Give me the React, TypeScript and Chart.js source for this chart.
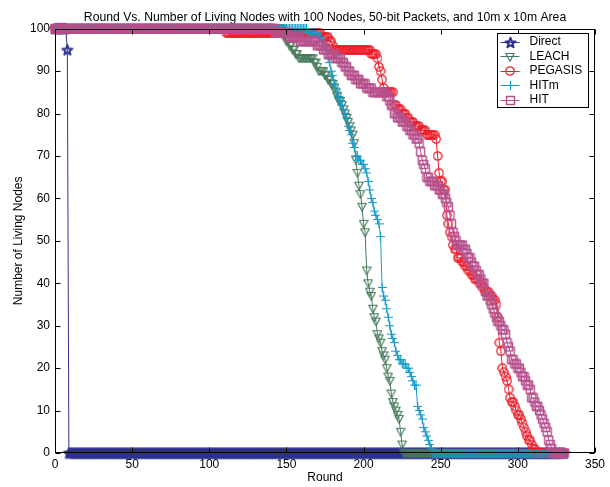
import React, { useEffect, useRef } from 'react';
import { Chart, registerables } from 'chart.js';

Chart.register(...registerables);

const chartTitle = 'Round Vs. Number of Living Nodes with 100 Nodes, 50-bit Packets, and 10m x 10m Area';
const xLabel = 'Round';
const yLabel = 'Number of Living Nodes';
const seriesNames = ['Direct', 'LEACH', 'PEGASIS', 'HITm', 'HIT'];
const xTicks = [0, 50, 100, 150, 200, 250, 300, 350];
const yTicks = [0, 10, 20, 30, 40, 50, 60, 70, 80, 90, 100];
const lastRound = 330;

// [round at which the living-node count changes, living nodes from that round on]
const directSteps = [[0, 100], [8, 95], [9, 0]];
const leachSteps = [[0, 100], [148, 99], [149, 98], [150, 97], [152, 96], [154, 95], [156, 94], [158, 93], [168, 92], [170, 91], [171, 90], [175, 89], [177, 88], [179, 87], [181, 86], [182, 85], [183, 84], [184, 83], [186, 82], [187, 81], [188, 80], [189, 79], [190, 78], [191, 77], [192, 76], [193, 75], [194, 73], [195, 69], [196, 66], [197, 63], [198, 61], [199, 58], [200, 54], [201, 52], [202, 43], [203, 40], [204, 38], [205, 37], [206, 34], [207, 32], [208, 31], [209, 28], [210, 27], [211, 26], [212, 24], [213, 23], [214, 22], [215, 20], [216, 18], [217, 17], [218, 14], [219, 12], [220, 11], [221, 10], [222, 9], [223, 8], [224, 5], [225, 2], [226, 0]];
const pegasisSteps = [[0, 100], [111, 99], [173, 98], [178, 97], [180, 96], [181, 95], [205, 94], [209, 93], [210, 91], [211, 90], [212, 88], [213, 86], [214, 85], [220, 82], [222, 81], [225, 80], [228, 79], [230, 78], [233, 77], [237, 76], [241, 75], [247, 74], [248, 70], [249, 66], [250, 64], [252, 62], [254, 56], [255, 54], [256, 52], [257, 51], [258, 49], [259, 48], [261, 46], [264, 45], [266, 44], [268, 43], [270, 42], [272, 41], [275, 40], [277, 39], [279, 38], [282, 37], [284, 36], [286, 35], [287, 32], [288, 26], [289, 24], [290, 20], [291, 19], [292, 18], [293, 17], [294, 15], [295, 13], [296, 12], [298, 11], [299, 10], [300, 9], [302, 8], [303, 7], [304, 6], [305, 5], [306, 4], [307, 3], [309, 2], [310, 1], [312, 0]];
const hitmSteps = [[0, 100], [164, 99], [171, 98], [173, 97], [175, 96], [176, 95], [177, 93], [178, 92], [179, 90], [180, 89], [181, 87], [182, 86], [183, 85], [184, 84], [185, 83], [186, 82], [187, 81], [188, 80], [189, 79], [190, 77], [191, 76], [192, 75], [193, 73], [194, 72], [195, 70], [197, 69], [199, 68], [201, 67], [202, 66], [203, 64], [204, 62], [205, 60], [206, 59], [207, 57], [208, 56], [209, 55], [210, 54], [211, 51], [212, 39], [213, 37], [214, 36], [215, 34], [216, 32], [217, 30], [218, 28], [219, 27], [220, 26], [221, 24], [222, 23], [223, 22], [225, 21], [228, 20], [230, 19], [231, 18], [232, 17], [233, 16], [235, 11], [236, 10], [237, 9], [238, 8], [239, 6], [240, 5], [241, 4], [242, 3], [243, 2], [244, 1], [245, 0]];
const hitSteps = [[0, 100], [143, 99], [152, 98], [159, 97], [170, 96], [174, 95], [177, 94], [182, 93], [186, 92], [188, 91], [190, 90], [192, 89], [195, 88], [198, 87], [202, 86], [206, 85], [215, 84], [217, 83], [218, 82], [220, 80], [222, 79], [225, 78], [228, 77], [230, 76], [232, 75], [234, 74], [236, 73], [237, 71], [238, 69], [239, 68], [240, 67], [241, 65], [243, 64], [246, 63], [249, 62], [251, 61], [253, 60], [254, 59], [255, 58], [256, 56], [257, 54], [258, 52], [259, 51], [260, 50], [261, 49], [265, 48], [267, 47], [268, 46], [270, 45], [271, 44], [273, 43], [274, 42], [276, 41], [277, 40], [279, 38], [280, 37], [282, 36], [283, 35], [284, 34], [285, 33], [286, 32], [287, 31], [289, 30], [290, 29], [292, 28], [293, 26], [294, 25], [295, 24], [296, 22], [298, 21], [300, 20], [302, 19], [303, 18], [305, 17], [306, 16], [308, 15], [309, 13], [311, 12], [312, 11], [314, 10], [315, 9], [316, 8], [317, 7], [318, 6], [319, 5], [320, 3], [321, 2], [322, 1], [323, 0]];

const seriesSteps = [directSteps, leachSteps, pegasisSteps, hitmSteps, hitSteps];
const seriesColors = ['#2E3192', '#467A5B', '#EE1D2A', '#169BC9', '#B5508C'];
const seriesMarkers = ['star', 'tri', 'circle', 'plus', 'rect'];
const markerStroke = [2, 1.2, 1.2, 1.2, 1.4];

const FONT = 'Liberation Sans, Arial, Helvetica, sans-serif';

// the count is held between recorded changes (one point per round)
function stepsToPoints(steps: number[][]) {
  const pts: { x: number; y: number }[] = [];
  let k = 0;
  for (let r = 0; r <= lastRound; r++) {
    while (k + 1 < steps.length && steps[k + 1][0] <= r) k++;
    pts.push({ x: r, y: steps[k][1] });
  }
  return pts;
}

function makeMarker(kind: string, color: string, lw: number) {
  const c = document.createElement('canvas');
  const s = kind === 'star' ? 13 : kind === 'plus' ? 9 : kind === 'rect' ? 11 : 10;
  c.width = s;
  c.height = s;
  const g = c.getContext('2d')!;
  g.strokeStyle = color;
  g.lineWidth = lw;
  g.lineJoin = 'round';
  const m = s / 2;
  g.beginPath();
  if (kind === 'star') {
    for (let i = 0; i < 10; i++) {
      const r = i % 2 === 0 ? 5.2 : 2.2;
      const a = -Math.PI / 2 + (i * Math.PI) / 5;
      const px = m + r * Math.cos(a);
      const py = m + 0.5 + r * Math.sin(a);
      if (i === 0) g.moveTo(px, py);
      else g.lineTo(px, py);
    }
    g.closePath();
  } else if (kind === 'tri') {
    g.moveTo(0.8, 1.5);
    g.lineTo(s - 0.8, 1.5);
    g.lineTo(m, s - 0.8);
    g.closePath();
  } else if (kind === 'circle') {
    g.arc(m, m, 4.2, 0, Math.PI * 2);
  } else if (kind === 'plus') {
    g.moveTo(m, 0);
    g.lineTo(m, s);
    g.moveTo(0, m);
    g.lineTo(s, m);
  } else {
    g.rect(1.5, 1.5, s - 3, s - 3);
  }
  g.stroke();
  return c;
}

const framePlugin = {
  id: 'matlabFrame',
  afterDatasetsDraw(chart: any) {
    const { ctx, chartArea: a, scales } = chart;
    const L = Math.round(a.left) + 0.5;
    const R = Math.round(a.right) - 0.5;
    const T = Math.round(a.top) + 0.5;
    const B = Math.round(a.bottom) - 0.5;
    ctx.save();
    ctx.strokeStyle = '#000';
    ctx.lineWidth = 1;
    ctx.strokeRect(L, T, R - L, B - T);
    ctx.beginPath();
    const tl = 5;
    xTicks.forEach((v) => {
      const px = Math.round(scales.x.getPixelForValue(v)) + 0.5;
      ctx.moveTo(px, B);
      ctx.lineTo(px, B - tl);
      ctx.moveTo(px, T);
      ctx.lineTo(px, T + tl);
    });
    yTicks.forEach((v) => {
      const py = Math.round(scales.y.getPixelForValue(v)) + 0.5;
      ctx.moveTo(L, py);
      ctx.lineTo(L + tl, py);
      ctx.moveTo(R, py);
      ctx.lineTo(R - tl, py);
    });
    ctx.stroke();
    ctx.restore();
  },
};

function makeLegendPlugin(markers: HTMLCanvasElement[]) {
  return {
    id: 'matlabLegend',
    afterDraw(chart: any) {
      const { ctx } = chart;
      const left = 497.5;
      const top = 33.5;
      const w = 91;
      const h = 74;
      ctx.save();
      ctx.fillStyle = '#fff';
      ctx.fillRect(left, top, w, h);
      ctx.strokeStyle = '#000';
      ctx.lineWidth = 1;
      ctx.strokeRect(left, top, w, h);
      ctx.font = `12px ${FONT}`;
      ctx.textBaseline = 'middle';
      ctx.textAlign = 'left';
      seriesNames.forEach((name, i) => {
        const y = top + 8 + i * 14.5;
        ctx.strokeStyle = seriesColors[i];
        ctx.beginPath();
        ctx.moveTo(left + 3, Math.round(y) + 0.5);
        ctx.lineTo(left + 22, Math.round(y) + 0.5);
        ctx.stroke();
        const mk = markers[i];
        if (mk) ctx.drawImage(mk, Math.round(left + 12.5 - mk.width / 2), Math.round(y + 0.5 - mk.height / 2));
        ctx.fillStyle = '#000';
        ctx.fillText(name, left + 32, y + 0.5);
      });
      ctx.restore();
    },
  };
}

export default function App() {
  const ref = useRef<HTMLCanvasElement | null>(null);
  useEffect(() => {
    if (!ref.current) return;
    const markers = seriesMarkers.map((k, i) => makeMarker(k, seriesColors[i], markerStroke[i]));
    const datasets = seriesNames.map((name, i) => ({
      label: name,
      data: stepsToPoints(seriesSteps[i]),
      borderColor: seriesColors[i],
      backgroundColor: 'transparent',
      borderWidth: 1,
      pointStyle: markers[i] as any,
      pointRadius: 4,
      tension: 0,
      clip: false as any,
      order: seriesNames.length - i,
    }));
    const chart: any = new Chart(ref.current, {
      type: 'line',
      data: { datasets },
      options: {
        responsive: false,
        animation: false,
        events: [],
        layout: { padding: { left: 0, right: 15, top: 0, bottom: 0 } },
        plugins: {
          legend: { display: false },
          tooltip: { enabled: false },
          title: {
            display: true,
            text: chartTitle,
            color: '#000',
            fullSize: false,
            font: { family: FONT, size: 12.2, weight: 'normal' },
            padding: { top: 10, bottom: 4 },
          },
        },
        scales: {
          x: {
            type: 'linear',
            min: 0,
            max: 350,
            afterBuildTicks: (s: any) => {
              s.ticks = xTicks.map((v) => ({ value: v }));
            },
            afterFit: (s: any) => {
              s.height = 34;
            },
            grid: { display: false, drawTicks: false },
            border: { display: false },
            ticks: { color: '#000', font: { family: FONT, size: 12 }, padding: 4, maxRotation: 0, autoSkip: false },
            title: { display: true, text: xLabel, color: '#000', font: { family: FONT, size: 12 }, padding: { top: 0, bottom: 2 } },
          },
          y: {
            type: 'linear',
            min: 0,
            max: 100,
            afterBuildTicks: (s: any) => {
              s.ticks = yTicks.map((v) => ({ value: v }));
            },
            afterFit: (s: any) => {
              s.width = 55;
            },
            grid: { display: false, drawTicks: false },
            border: { display: false },
            ticks: { color: '#000', font: { family: FONT, size: 12 }, padding: 5, autoSkip: false },
            title: { display: true, text: yLabel, color: '#000', font: { family: FONT, size: 12 }, padding: { top: 11, bottom: 0 } },
          },
        },
      },
      plugins: [framePlugin, makeLegendPlugin(markers)],
    });
    return () => chart.destroy();
  }, []);
  return (
    <div style={{ position: 'absolute', left: 0, top: 0, width: 610, height: 487, background: '#fff' }}>
      <canvas ref={ref} width={610} height={487} />
    </div>
  );
}
